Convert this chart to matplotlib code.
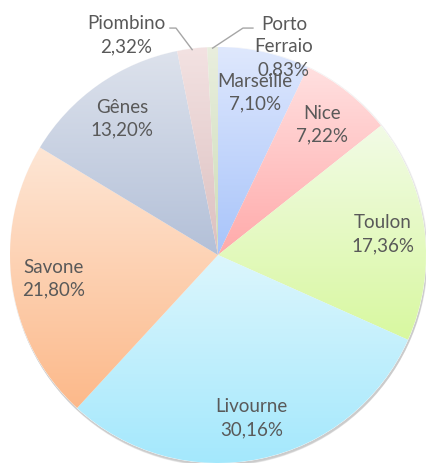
import matplotlib
matplotlib.use("Agg")
import matplotlib.pyplot as plt
import numpy as np
from matplotlib.colors import to_rgb
from matplotlib.patches import Circle

plt.rcParams["font.family"] = ["Lato", "DejaVu Sans"]

ports = ["Marseille", "Nice", "Toulon", "Livourne", "Savone", "Gênes", "Piombino", "Porto\nFerraio"]
shares = [7.10, 7.22, 17.36, 30.16, 21.80, 13.20, 2.32, 0.83]
top_colors = ["#dfe8fd", "#ffe0e0", "#f2fbe6", "#dcf6fd", "#fee6d5", "#dde2ec", "#f3e2e2", "#e9eede"]
bottom_colors = ["#a8c4fa", "#ffaaaa", "#d8f8a0", "#a4e8fc", "#fcb98a", "#b3c0d8", "#dcc0c0", "#ccdcb8"]

TEXT = "#595959"
FS = 13.5
LS = 1.42

fig = plt.figure(figsize=(4.27, 4.65), dpi=100)
ax = fig.add_axes([10 / 427, 2 / 465, 416 / 427, 416 / 465])

# soft shadow under the pie
for k, a in enumerate([0.10, 0.10, 0.12, 0.14]):
    ax.add_patch(Circle((0.004, -0.004 - 0.004 * k), 1.0 + 0.002 * (3 - k),
                        color="#7f7f7f", alpha=a, lw=0, zorder=0))

wedges, _ = ax.pie(shares, startangle=90, counterclock=False, radius=1,
                   wedgeprops=dict(linewidth=0.4, edgecolor="#ffffff"))

for w, c0, c1 in zip(wedges, top_colors, bottom_colors):
    w.set_facecolor("#ffffff")
    w.set_zorder(1)
    ext = w.get_path().get_extents()
    t = np.linspace(0, 1, 256)[:, None, None]
    grad = (1 - t) * np.array(to_rgb(c1)) + t * np.array(to_rgb(c0))
    grad = np.repeat(grad, 2, axis=1)
    im = ax.imshow(grad, extent=[ext.x0, ext.x1, ext.y0, ext.y1], origin="lower",
                   aspect="auto", zorder=2, interpolation="bilinear")
    im.set_clip_path(w)


def fmt(v):
    return f"{v:.2f}".replace(".", ",") + "%"


# labels inside the big slices
for w, name, v in list(zip(wedges, ports, shares))[:6]:
    th = np.deg2rad((w.theta1 + w.theta2) / 2)
    ax.text(0.8 * np.cos(th), 0.8 * np.sin(th), f"{name}\n{fmt(v)}",
            ha="center", va="center", fontsize=FS, color=TEXT, linespacing=LS, zorder=5)

# small slices with leader lines
outer = [((-0.442, 1.058), (-0.202, 1.091), (-0.231, 1.091)),
         ((0.317, 1.0), (0.120, 1.091), (0.168, 1.091))]
for w, name, v, (tpos, elbow, end) in zip(wedges[6:], ports[6:], shares[6:], outer):
    th = np.deg2rad((w.theta1 + w.theta2) / 2)
    px, py = 0.995 * np.cos(th), 0.995 * np.sin(th)
    ax.plot([px, elbow[0], end[0]], [py, elbow[1], end[1]], color="#a6a6a6",
            lw=1.0, clip_on=False, zorder=4)
    ax.text(tpos[0], tpos[1], f"{name}\n{fmt(v)}", ha="center", va="center",
            fontsize=FS, color=TEXT, linespacing=LS, zorder=5)

ax.set_xlim(-1, 1)
ax.set_ylim(-1, 1)
ax.set_axis_off()

fig.savefig("out.png", dpi=100)
